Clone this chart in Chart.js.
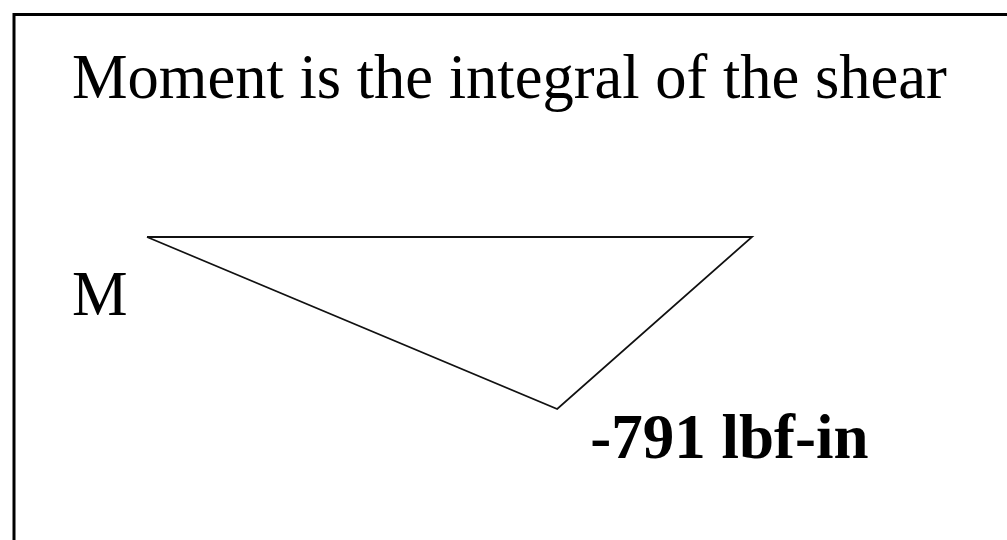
<!DOCTYPE html>
<html>
<head>
<meta charset="utf-8">
<script src="https://cdn.jsdelivr.net/npm/chart.js@4/dist/chart.umd.min.js"></script>
<style>
  html, body { margin: 0; padding: 0; background: #fff; }
  #wrap { width: 1007px; height: 540px; }
</style>
</head>
<body>
<div id="wrap"><canvas id="moment" width="1007" height="540"></canvas></div>
<script>
// moment diagram: position along the beam vs. bending moment (lbf-in)
const positions = [0, 6.78, 10, 0];
const moments = [0, -791, 0, 0];
const titleText = 'Moment is the integral of the shear';
const axisLabel = 'M';
const peakLabel = '-791 lbf-in';

// frame + texts drawn on top of the chart
const slideText = {
    id: 'slideText',
    afterDraw(chart) {
        const ctx = chart.ctx;
        ctx.save();
        // slide frame (top and left edge only)
        ctx.strokeStyle = '#000';
        ctx.lineWidth = 3;
        ctx.beginPath();
        ctx.moveTo(14, 540);
        ctx.lineTo(14, 14.5);
        ctx.lineTo(1007, 14.5);
        ctx.stroke();

        ctx.fillStyle = '#000';
        ctx.textBaseline = 'alphabetic';
        ctx.font = "62.5px 'Liberation Serif', 'Times New Roman', serif";
        ctx.fillText(titleText, 72, 98);
        ctx.fillText(axisLabel, 72, 315);

        // label next to the lowest point
        const meta = chart.getDatasetMeta(0);
        const peak = meta.data[1];
        ctx.font = "bold 63px 'Liberation Serif', 'Times New Roman', serif";
        ctx.fillText(peakLabel, peak.x + 33, peak.y + 49);
        ctx.restore();
    }
};

const ctx = document.getElementById('moment').getContext('2d');
const momentChart = new Chart(ctx, {
    type: 'line',
    data: {
        labels: positions,
        datasets: [{
            data: positions.map((x, i) => ({ x: x, y: moments[i] })),
            borderColor: '#111',
            borderWidth: 1.8,
            pointRadius: 0,
            tension: 0,
            fill: false,
        }],
    },
    options: {
        responsive: false,
        animation: false,
        layout: { padding: 0, autoPadding: false },
        scales: {
            x: { type: 'linear', display: false, min: -2.4298, max: 14.2149 },
            y: { type: 'linear', display: false, min: -1393.45, max: 1089.93 },
        },
        plugins: {
            legend: { display: false },
            title: { display: false },
            tooltip: { enabled: false },
        },
    },
    plugins: [slideText],
});
</script>
</body>
</html>
